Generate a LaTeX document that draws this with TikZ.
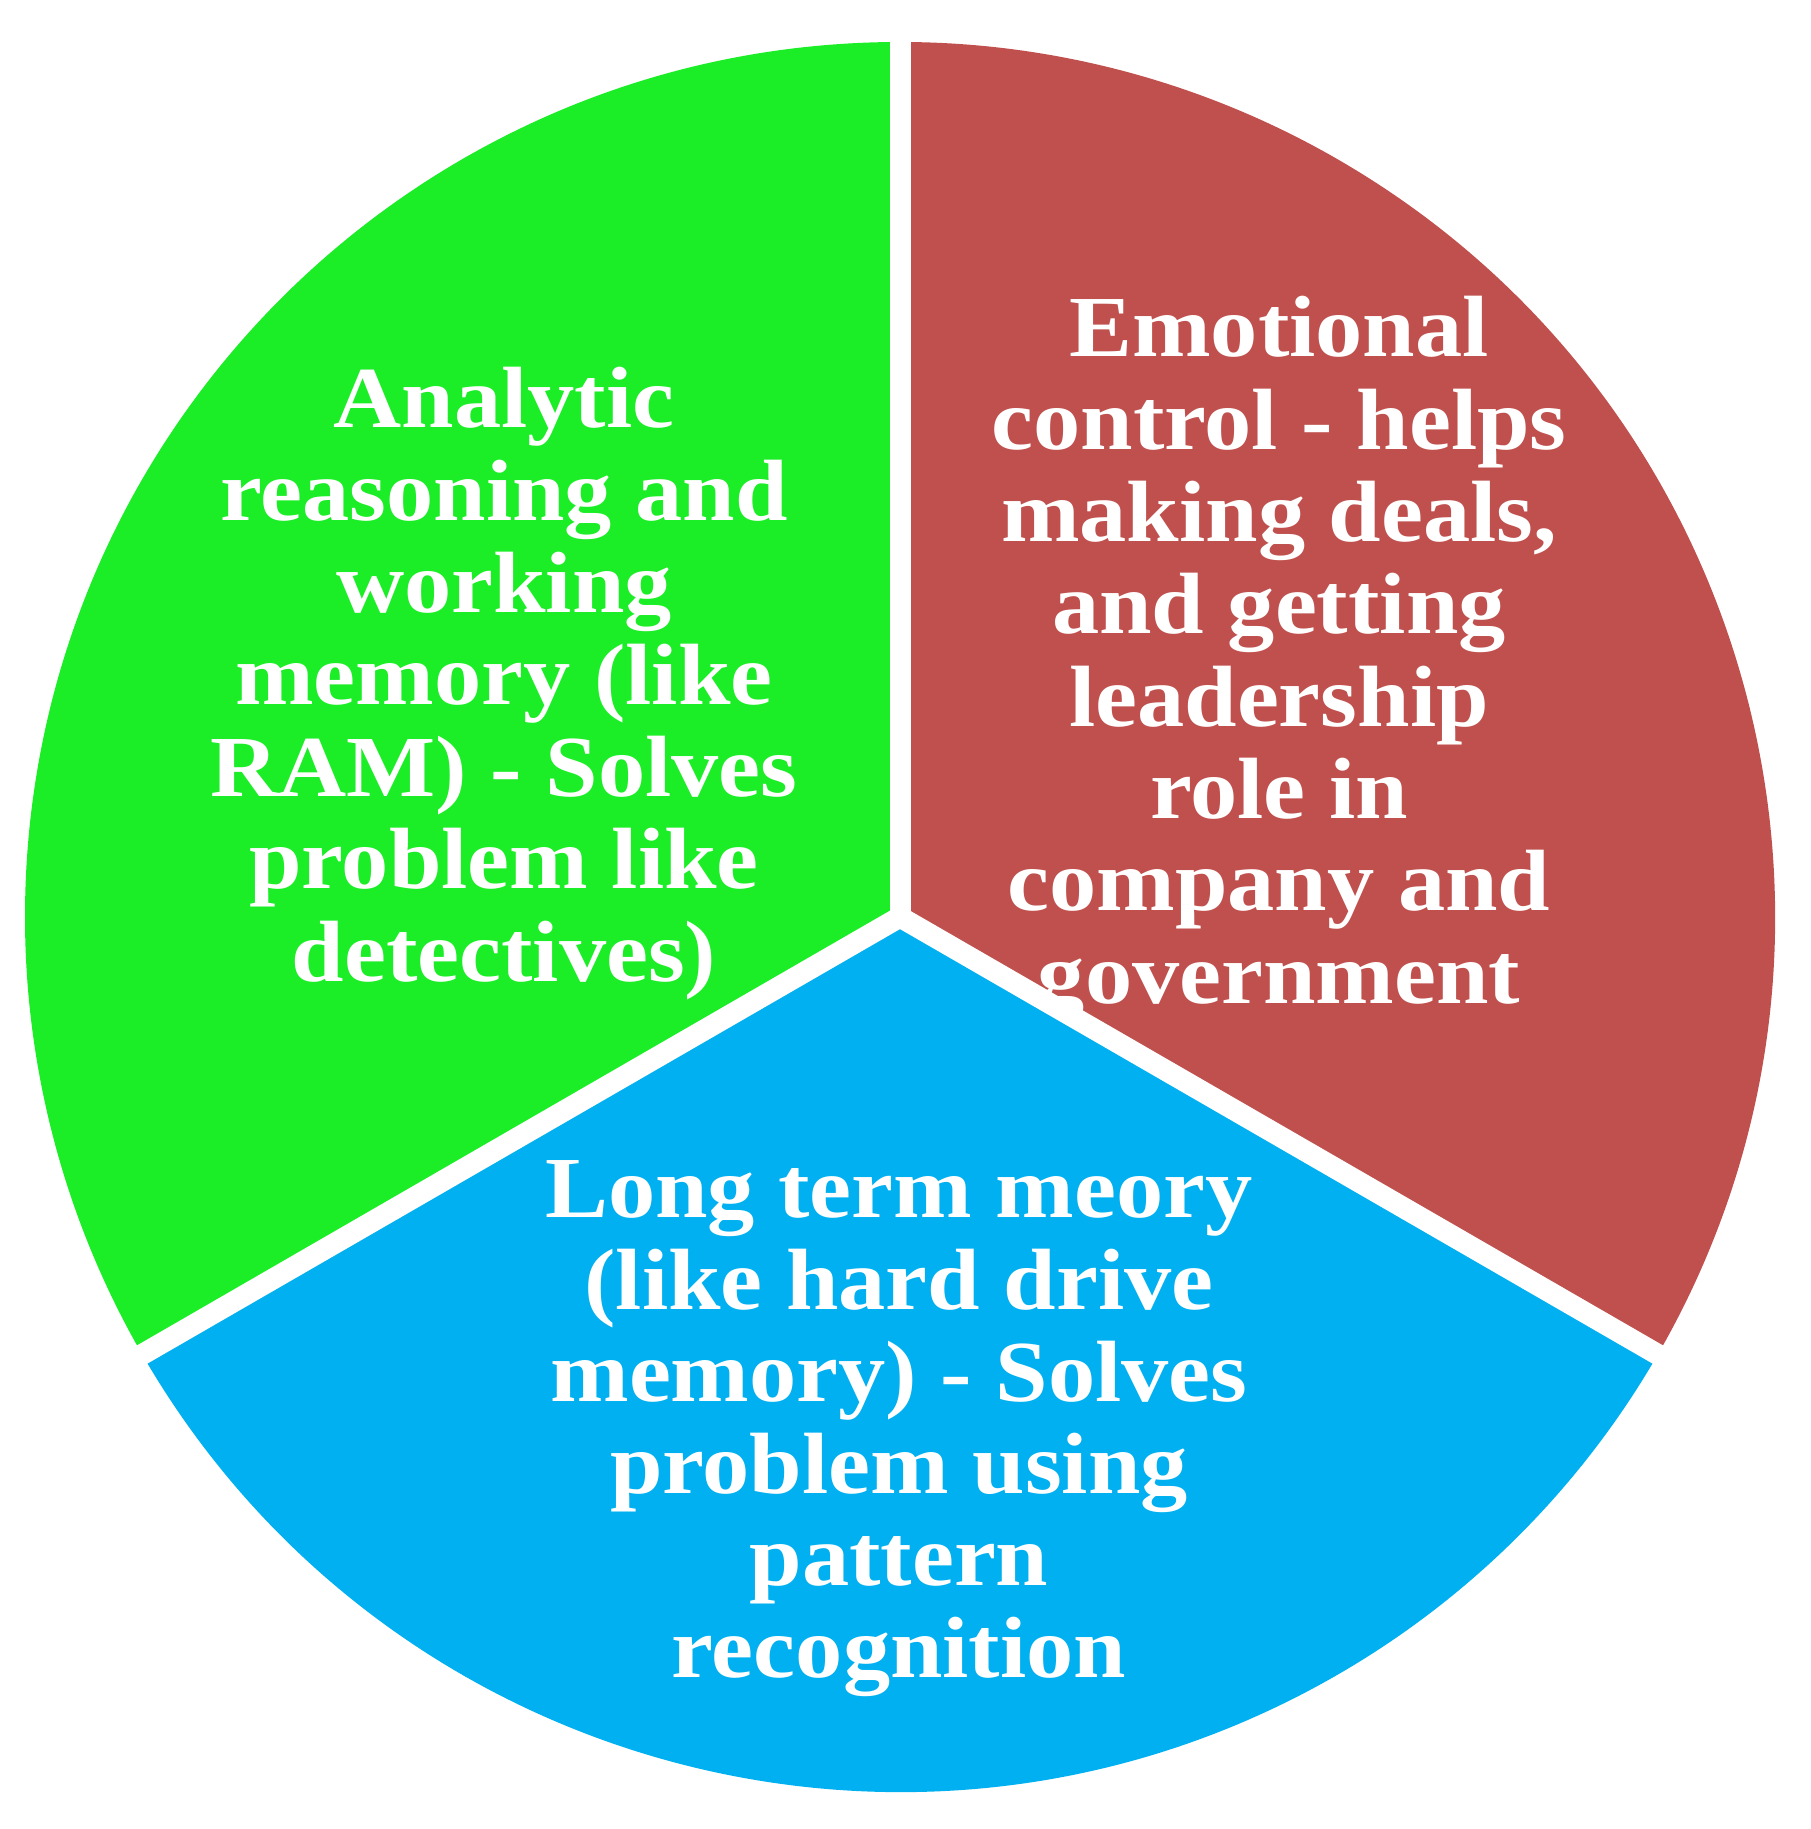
\documentclass[tikz,border=0pt]{standalone}
\usepackage{fontspec}
\newfontfamily\lblfont[FakeStretch=1.085]{Liberation Serif}
\definecolor{pgreen}{RGB}{27,237,38}
\definecolor{pred}{RGB}{192,80,77}
\definecolor{pblue}{RGB}{0,176,240}
\tikzset{
  lbl/.style={text=white, font=\lblfont\bfseries\fontsize{87}{92}\selectfont, inner sep=0pt, anchor=base},
  sep/.style={draw=white, line width=21pt, line cap=butt}
}
\begin{document}
\begin{tikzpicture}[x=1pt,y=1pt]
\useasboundingbox (0,0) rectangle (1811,1829);
\coordinate (c) at (900,912);
\path (c) ++(90:890) coordinate (top);
\path (c) ++(210:890) coordinate (lowleft);
\path (c) ++(330:890) coordinate (lowright);
% sectors
\fill[pgreen] (c) -- ++(90:875) arc[start angle=90, end angle=210, radius=875] -- cycle;
\fill[pblue] (c) -- ++(210:875) arc[start angle=210, end angle=330, radius=875] -- cycle;
\fill[pred] (c) -- ++(330:875) arc[start angle=330, end angle=450, radius=875] -- cycle;
% labels
\begin{scope}
\clip (c) -- ++(90:875) arc[start angle=90, end angle=210, radius=875] -- cycle;
\foreach \t [count=\i from 0] in {{Analytic},{reasoning and},{working},{memory (like},{RAM) - Solves},{problem like},{detectives)}}
  \node[lbl] (g\i) at (504, {1829-428-92.2*\i}) {\t};
\end{scope}
\begin{scope}
\clip (c) -- ++(330:875) arc[start angle=330, end angle=450, radius=875] -- cycle;
\foreach \t [count=\i from 0] in {{Emotional},{control - helps},{making deals,},{and getting},{leadership},{role in},{company and},{government}}
  \node[lbl] (r\i) at (1279, {1829-357-92.3*\i}) {\t};
\end{scope}
\begin{scope}
\clip (c) -- ++(210:875) arc[start angle=210, end angle=330, radius=875] -- cycle;
\foreach \t [count=\i from 0] in {{Long term meory},{(like hard drive},{memory) - Solves},{problem using},{pattern},{recognition}}
  \node[lbl] (b\i) at (899, {1829-1218-92*\i}) {\t};
\end{scope}
% separators
\draw[sep] (c) -- (top);
\draw[sep] (c) -- (lowleft);
\draw[sep] (c) -- (lowright);
\end{tikzpicture}
\end{document}
